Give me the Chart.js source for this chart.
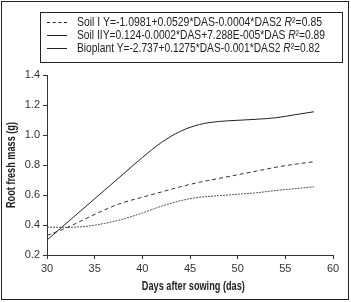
<!DOCTYPE html>
<html>
<head>
<meta charset="utf-8">
<script src="https://cdn.jsdelivr.net/npm/chart.js@4.4.1/dist/chart.umd.min.js"></script>
<style>
  html, body { margin: 0; padding: 0; background: #fff; }
  #wrap { position: relative; width: 351px; height: 302px; overflow: hidden; }
  #frame { position: absolute; left: 1px; top: 1px; width: 346px; height: 297px; border: 1px solid #222; box-sizing: content-box; pointer-events: none; }
  canvas { position: absolute; left: 0; top: 0; }
  #legend { position: absolute; left: 40px; top: 12px; width: 301px; height: 49px; border: 1px solid #222;
    font-family: "Liberation Sans", Arial, sans-serif; font-size: 12px; color: #222; }
  .row { position: absolute; left: 0; height: 13px; line-height: 13px; white-space: nowrap; }
  .sample { position: absolute; left: 6px; top: 6px; width: 20px; height: 0; }
  .txt { position: absolute; left: 36px; top: 0; transform-origin: 0 50%; display: inline-block; }
  i { font-style: italic; }
  .atitle { position: absolute; font-family: "Liberation Sans", Arial, sans-serif; font-weight: bold; font-size: 12px; color: #222; white-space: nowrap; line-height: 12px; }
</style>
</head>
<body>
<div id="wrap">
  <canvas id="c" width="351" height="302"></canvas>
  <div id="legend"></div>
  <div id="xt" class="atitle">Days after sowing (das)</div>
  <div id="yt" class="atitle">Root fresh mass (g)</div>
  <div id="frame"></div>
</div>
<script>
const days = [30, 32, 34, 36, 38, 40, 42, 44, 46, 48, 50, 52, 54, 56, 58];
const soilI =    [0.330, 0.380, 0.440, 0.500, 0.550, 0.585, 0.620, 0.655, 0.685, 0.710, 0.735, 0.760, 0.785, 0.805, 0.822];
const soilII =   [0.300, 0.410, 0.520, 0.630, 0.740, 0.850, 0.950, 1.025, 1.070, 1.090, 1.098, 1.105, 1.115, 1.135, 1.155];
const bioplant = [0.385, 0.385, 0.390, 0.410, 0.440, 0.480, 0.525, 0.562, 0.585, 0.595, 0.605, 0.615, 0.630, 0.642, 0.655];
const xTicks = [30, 35, 40, 45, 50, 55, 60];
const yTicks = [0.2, 0.4, 0.6, 0.8, 1.0, 1.2, 1.4];
const legendLabels = [
  'Soil I Y=-1.0981+0.0529*DAS-0.0004*DAS2 <i>R</i>²=0.85',
  'Soil IIY=0.124-0.0002*DAS+7.288E-005*DAS <i>R</i>²=0.89',
  'Bioplant Y=-2.737+0.1275*DAS-0.001*DAS2 <i>R</i>²=0.82'
];
const legendDash = ['dashed', 'solid', 'solid'];
const legendTextWidths = [245, 248, 243];

// HTML legend
const lg = document.getElementById('legend');
legendLabels.forEach((t, i) => {
  const r = document.createElement('div');
  r.className = 'row';
  r.style.top = (3 + i * 13) + 'px';
  r.style.width = '100%';
  r.innerHTML = '<div class="sample" style="border-top:1px ' + legendDash[i] + ' #222"></div><span class="txt">' + t + '</span>';
  lg.appendChild(r);
  const sp = r.querySelector('.txt');
  const w = sp.getBoundingClientRect().width;
  sp.style.transform = 'scaleX(' + (legendTextWidths[i] / w) + ')';
});

// axis titles, condensed
const xt = document.getElementById('xt');
const xw = xt.getBoundingClientRect().width;
xt.style.left = (193 - xw / 2) + 'px';
xt.style.top = '280px';
xt.style.transform = 'scaleX(' + (103 / xw) + ')';
const yt = document.getElementById('yt');
const yw = yt.getBoundingClientRect().width;
yt.style.left = (11 - yw / 2) + 'px';
yt.style.top = (165 - 6) + 'px';
yt.style.transform = 'rotate(-90deg) scaleX(' + (86 / yw) + ')';

const font = { family: '"Liberation Sans", Arial, sans-serif', size: 11 };
const toPts = arr => arr.map((v, i) => ({ x: days[i], y: v }));

new Chart(document.getElementById('c'), {
  type: 'line',
  data: {
    datasets: [
      { label: 'Soil I', data: toPts(soilI), borderColor: '#333', borderWidth: 1, borderDash: [4, 3], pointRadius: 0, cubicInterpolationMode: 'monotone', fill: false },
      { label: 'Soil II', data: toPts(soilII), borderColor: '#222', borderWidth: 1, pointRadius: 0, cubicInterpolationMode: 'monotone', fill: false },
      { label: 'Bioplant', data: toPts(bioplant), borderColor: '#555', borderWidth: 1, borderDash: [2, 1], pointRadius: 0, cubicInterpolationMode: 'monotone', fill: false }
    ]
  },
  options: {
    responsive: false,
    animation: false,
    devicePixelRatio: 1,
    layout: { padding: { left: 4, top: 75, right: 18, bottom: 6 } },
    plugins: { legend: { display: false }, tooltip: { enabled: false } },
    scales: {
      x: {
        type: 'linear', min: 30, max: 60,
        afterBuildTicks: s => { s.ticks = xTicks.map(v => ({ value: v })); },
        afterFit: s => { s.height = 41; },
        grid: { drawOnChartArea: false, drawTicks: true, tickLength: 4, color: '#333' },
        border: { color: '#333', width: 1 },
        ticks: { color: '#333', font: font, padding: 3, maxRotation: 0 },
        title: { display: false }
      },
      y: {
        type: 'linear', min: 0.2, max: 1.4,
        afterBuildTicks: s => { s.ticks = yTicks.map(v => ({ value: v })); },
        afterFit: s => { s.width = 43; },
        grid: { drawOnChartArea: false, drawTicks: true, tickLength: 4, color: '#333' },
        border: { color: '#333', width: 1 },
        ticks: { color: '#333', font: font, padding: 3, callback: v => Number(v).toFixed(1) },
        title: { display: false }
      }
    }
  }
});
</script>
</body>
</html>
